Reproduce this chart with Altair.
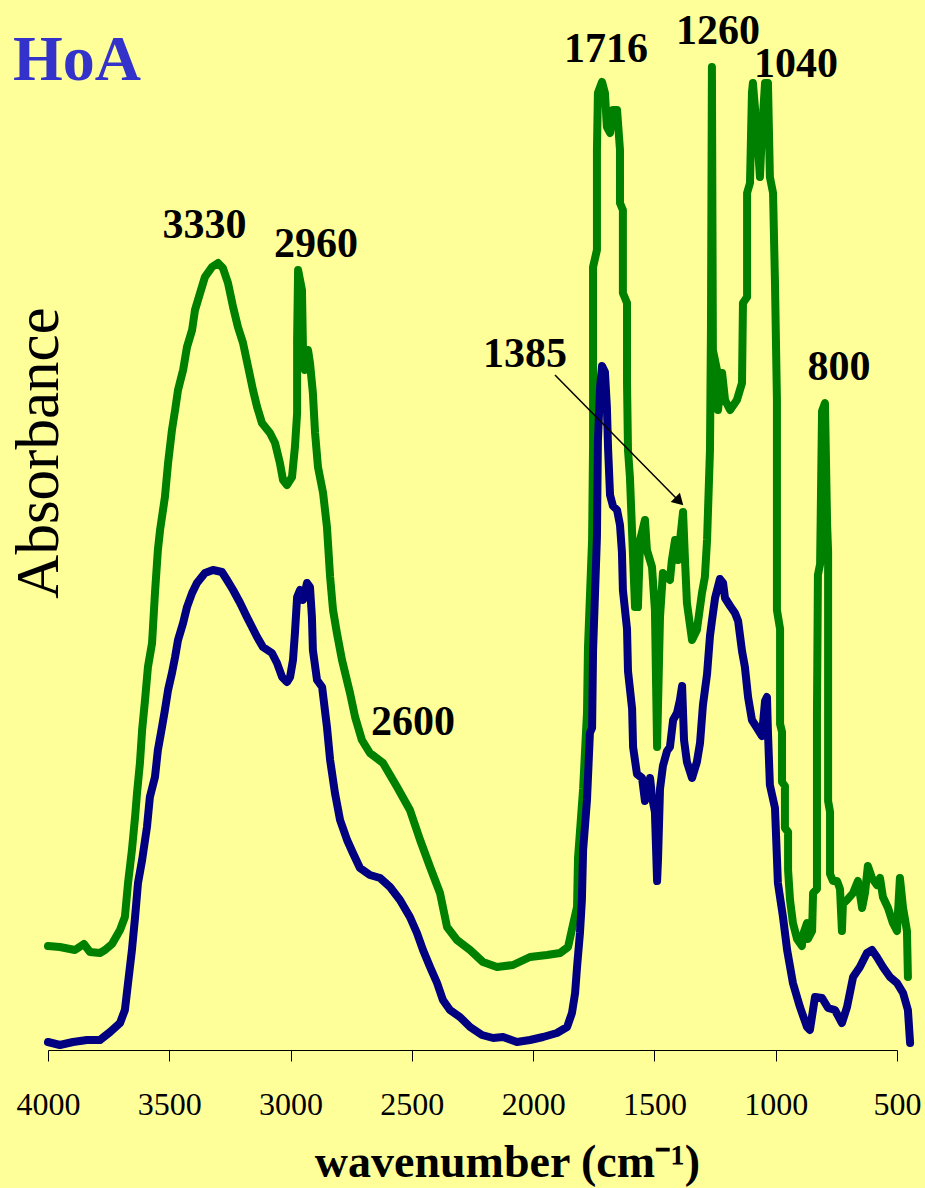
import altair as alt
import pandas as pd

# FTIR spectra of the HoA sample (wavenumber in cm-1, absorbance in arbitrary offset units)
green_wn = [4000, 3951, 3889, 3852, 3827, 3786, 3765, 3736, 3703, 3683, 3670, 3654, 3641, 3633, 3621,
            3612, 3600, 3588, 3571, 3559, 3547, 3538, 3518, 3505, 3489, 3476, 3464, 3443, 3427, 3406,
            3394, 3373, 3353, 3324, 3299, 3279, 3258, 3237, 3217, 3196, 3175, 3155, 3138, 3118, 3085,
            3064, 3044, 3031, 3015, 2994, 2982, 2973, 2973, 2969, 2953, 2949, 2941, 2928, 2920, 2908,
            2899, 2887, 2866, 2850, 2837, 2825, 2809, 2788, 2755, 2734, 2706, 2673, 2619, 2561, 2508,
            2466, 2425, 2384, 2355, 2314, 2260, 2207, 2149, 2083, 2013, 1943, 1889, 1856, 1836, 1819,
            1815, 1794, 1778, 1774, 1757, 1753, 1753, 1753, 1737, 1737, 1733, 1716, 1704, 1696, 1683,
            1671, 1654, 1642, 1642, 1630, 1630, 1613, 1613, 1609, 1601, 1592, 1580, 1568, 1559, 1539,
            1531, 1510, 1498, 1489, 1477, 1465, 1436, 1428, 1415, 1403, 1382, 1374, 1366, 1345, 1325,
            1304, 1292, 1283, 1271, 1267, 1263, 1259, 1242, 1238, 1221, 1209, 1188, 1160, 1139, 1135,
            1118, 1118, 1106, 1098, 1094, 1077, 1065, 1057, 1044, 1032, 1024, 1011, 1003, 995, 995,
            982, 982, 974, 974, 962, 962, 949, 949, 941, 929, 912, 892, 888, 871, 867,
            850, 846, 830, 830, 826, 817, 809, 797, 788, 784, 784, 776, 776, 764, 747,
            735, 727, 723, 706, 681, 661, 644, 632, 620, 603, 583, 570, 558, 537, 517,
            500, 488, 475, 459, 455]
green_abs = [0.104, 0.103, 0.100, 0.106, 0.098, 0.097, 0.100, 0.106, 0.120, 0.133, 0.167, 0.200, 0.233, 0.257, 0.287,
             0.320, 0.350, 0.383, 0.407, 0.457, 0.500, 0.520, 0.553, 0.587, 0.620, 0.640, 0.660, 0.680, 0.703, 0.720,
             0.740, 0.757, 0.773, 0.783, 0.787, 0.782, 0.767, 0.743, 0.723, 0.707, 0.683, 0.660, 0.643, 0.627, 0.617,
             0.607, 0.587, 0.570, 0.565, 0.573, 0.603, 0.637, 0.710, 0.780, 0.760, 0.703, 0.680, 0.700, 0.687, 0.657,
             0.617, 0.583, 0.557, 0.523, 0.473, 0.440, 0.417, 0.390, 0.357, 0.333, 0.310, 0.297, 0.287, 0.263, 0.240,
             0.210, 0.183, 0.157, 0.123, 0.110, 0.100, 0.088, 0.083, 0.085, 0.093, 0.095, 0.097, 0.103, 0.125, 0.143,
             0.192, 0.261, 0.337, 0.402, 0.510, 0.605, 0.720, 0.783, 0.800, 0.900, 0.957, 0.968, 0.957, 0.923, 0.917,
             0.940, 0.940, 0.900, 0.847, 0.840, 0.757, 0.747, 0.667, 0.600, 0.573, 0.517, 0.443, 0.443, 0.510, 0.530,
             0.500, 0.483, 0.440, 0.303, 0.433, 0.477, 0.470, 0.490, 0.510, 0.490, 0.538, 0.490, 0.447, 0.410, 0.420,
             0.457, 0.473, 0.510, 0.600, 0.720, 0.983, 0.700, 0.680, 0.640, 0.677, 0.650, 0.640, 0.650, 0.667, 0.747,
             0.753, 0.857, 0.867, 0.957, 0.967, 0.917, 0.873, 0.917, 0.967, 0.967, 0.873, 0.857, 0.767, 0.650, 0.440,
             0.421, 0.326, 0.318, 0.268, 0.264, 0.222, 0.218, 0.180, 0.150, 0.127, 0.111, 0.104, 0.115, 0.127, 0.111,
             0.119, 0.157, 0.161, 0.333, 0.475, 0.486, 0.639, 0.647, 0.525, 0.498, 0.249, 0.238, 0.176, 0.169, 0.169,
             0.161, 0.119, 0.146, 0.150, 0.157, 0.169, 0.142, 0.157, 0.184, 0.172, 0.165, 0.172, 0.153, 0.142, 0.127,
             0.119, 0.172, 0.142, 0.119, 0.073]

blue_wn = [4000, 3951, 3897, 3839, 3786, 3744, 3703, 3683, 3670, 3654, 3641, 3629, 3612, 3592, 3580,
           3559, 3547, 3530, 3518, 3505, 3489, 3476, 3464, 3443, 3427, 3406, 3386, 3353, 3320, 3283,
           3262, 3237, 3208, 3180, 3159, 3138, 3114, 3077, 3056, 3035, 3015, 3002, 2990, 2982, 2973,
           2961, 2949, 2932, 2920, 2912, 2908, 2891, 2870, 2850, 2837, 2817, 2796, 2767, 2743, 2714,
           2673, 2631, 2590, 2549, 2508, 2479, 2454, 2425, 2396, 2372, 2343, 2302, 2260, 2211, 2165,
           2124, 2067, 2013, 1959, 1902, 1860, 1840, 1827, 1819, 1807, 1799, 1794, 1778, 1766, 1757,
           1753, 1737, 1733, 1724, 1716, 1704, 1696, 1691, 1683, 1671, 1654, 1642, 1634, 1630, 1613,
           1609, 1592, 1588, 1572, 1551, 1539, 1518, 1510, 1498, 1489, 1485, 1477, 1465, 1448, 1436,
           1423, 1407, 1395, 1386, 1378, 1366, 1345, 1325, 1312, 1300, 1283, 1271, 1263, 1250, 1230,
           1217, 1209, 1188, 1168, 1155, 1139, 1127, 1114, 1098, 1077, 1057, 1044, 1036, 1032, 1024,
           1003, 991, 970, 953, 929, 900, 871, 859, 838, 809, 784, 756, 727, 706, 681,
           653, 624, 603, 583, 558, 529, 500, 475, 455, 446]
blue_abs = [0.008, 0.005, 0.008, 0.010, 0.010, 0.018, 0.027, 0.040, 0.067, 0.100, 0.133, 0.167, 0.190, 0.223, 0.253,
            0.273, 0.300, 0.323, 0.340, 0.360, 0.377, 0.393, 0.410, 0.427, 0.443, 0.457, 0.467, 0.477, 0.480, 0.478,
            0.470, 0.460, 0.447, 0.433, 0.423, 0.413, 0.403, 0.397, 0.387, 0.373, 0.368, 0.373, 0.390, 0.417, 0.453,
            0.460, 0.450, 0.467, 0.463, 0.433, 0.400, 0.370, 0.363, 0.323, 0.290, 0.257, 0.230, 0.210, 0.197, 0.182,
            0.175, 0.172, 0.163, 0.150, 0.133, 0.117, 0.100, 0.083, 0.067, 0.050, 0.040, 0.033, 0.023, 0.015, 0.012,
            0.013, 0.008, 0.010, 0.013, 0.017, 0.023, 0.037, 0.057, 0.083, 0.117, 0.150, 0.200, 0.250, 0.317, 0.322,
            0.399, 0.513, 0.609, 0.663, 0.684, 0.678, 0.643, 0.601, 0.555, 0.544, 0.540, 0.525, 0.498, 0.460, 0.421,
            0.379, 0.341, 0.303, 0.276, 0.272, 0.249, 0.272, 0.253, 0.238, 0.169, 0.192, 0.261, 0.284, 0.299, 0.303,
            0.330, 0.337, 0.350, 0.364, 0.310, 0.288, 0.272, 0.288, 0.307, 0.345, 0.376, 0.414, 0.429, 0.452, 0.471,
            0.467, 0.452, 0.444, 0.437, 0.429, 0.399, 0.383, 0.353, 0.330, 0.322, 0.314, 0.349, 0.353, 0.318, 0.265,
            0.242, 0.167, 0.133, 0.100, 0.067, 0.043, 0.023, 0.020, 0.053, 0.052, 0.042, 0.040, 0.027, 0.043, 0.073,
            0.083, 0.097, 0.100, 0.093, 0.083, 0.073, 0.067, 0.057, 0.040, 0.007]

# Band assignments written above the peaks
peak_text = ["3330", "2960", "2600", "1716", "1260", "1040", "1385", "800"]
peak_wn = [3355, 2895, 2495, 1700, 1238, 916, 2034, 739]
peak_abs = [0.812, 0.793, 0.315, 0.988, 1.006, 0.973, 0.683, 0.670]

# Leader arrow from the 1385 label to its band
arrow_start_wn, arrow_start_abs = 1910, 0.675
arrow_end_wn, arrow_end_abs = 1403, 0.550

tick_values = [4000, 3500, 3000, 2500, 2000, 1500, 1000, 500]

SERIF = "Liberation Serif"

green = pd.DataFrame({"wn": green_wn, "a": green_abs, "i": range(len(green_wn))})
blue = pd.DataFrame({"wn": blue_wn, "a": blue_abs, "i": range(len(blue_wn))})
peaks = pd.DataFrame({"wn": peak_wn, "a": peak_abs, "t": peak_text})
arrow = pd.DataFrame({"wn": [arrow_start_wn], "a": [arrow_start_abs],
                      "wn2": [arrow_end_wn], "a2": [arrow_end_abs]})
head = pd.DataFrame({"wn": [arrow_end_wn], "a": [arrow_end_abs]})

x_scale = alt.Scale(domain=[500, 4000], reverse=True, nice=False)
y_scale = alt.Scale(domain=[0, 1], nice=False)

x_axis = alt.Axis(
    values=tick_values, format="d", grid=False,
    domainColor="black", domainWidth=1, tickColor="black", tickWidth=1, tickSize=11,
    labelFont=SERIF, labelFontSize=32, labelColor="black", labelPadding=28,
    labelBaseline="top", labelFlush=False,
    title="wavenumber (cm⁻¹)", titleFont=SERIF, titleFontSize=46, titleFontWeight="bold",
    titleColor="black", titleX=459, titleY=126, titleAlign="center", titleBaseline="alphabetic",
)

def spectrum(df, color):
    return alt.Chart(df).mark_line(
        color=color, strokeWidth=8, strokeCap="round", strokeJoin="round"
    ).encode(
        x=alt.X("wn:Q", scale=x_scale, axis=x_axis),
        y=alt.Y("a:Q", scale=y_scale, axis=None),
        order=alt.Order("i:Q"),
    )

green_line = spectrum(green, "#008000")
blue_line = spectrum(blue, "#000080")

peak_labels = alt.Chart(peaks).mark_text(
    font=SERIF, fontSize=42, fontWeight="bold", color="black",
    align="center", baseline="alphabetic"
).encode(x="wn:Q", y="a:Q", text="t:N")

leader = alt.Chart(arrow).mark_rule(color="black", strokeWidth=1.5).encode(
    x="wn:Q", y="a:Q", x2="wn2:Q", y2="a2:Q"
)
arrow_head = alt.Chart(head).mark_point(
    shape="triangle", filled=True, angle=135, size=170, color="black", opacity=1
).encode(x="wn:Q", y="a:Q")

sample_name = alt.Chart(pd.DataFrame({"t": ["HoA"]})).mark_text(
    font=SERIF, fontSize=64, fontWeight="bold", color="#3333CC",
    align="center", baseline="alphabetic"
).encode(x=alt.value(29), y=alt.value(30), text="t:N")

y_title = alt.Chart(pd.DataFrame({"t": ["Absorbance"]})).mark_text(
    font=SERIF, fontSize=61, color="black", angle=270,
    align="center", baseline="middle"
).encode(x=alt.value(-8), y=alt.value(403), text="t:N")

chart = alt.layer(
    green_line, blue_line, leader, arrow_head, peak_labels, sample_name, y_title
).properties(
    width=849, height=1000,
    padding={"left": 48, "top": 50, "right": 28, "bottom": 138},
    autosize=alt.AutoSizeParams(type="none"),
    background="#FFFF99",
).configure_view(strokeWidth=0)

chart.save("out.html", embed_options={"renderer": "svg", "actions": False})
